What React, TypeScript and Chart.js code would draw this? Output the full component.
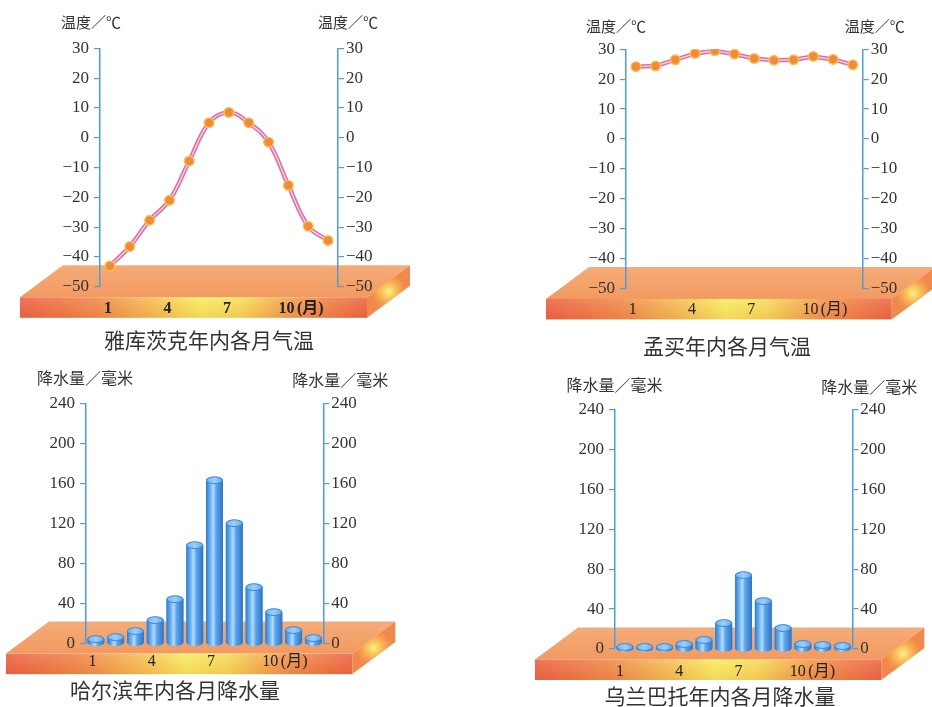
import React, { useEffect, useRef } from 'react';
import { Chart, registerables } from 'chart.js';

Chart.register(...registerables);

// ---------- data ----------
const months = ['1', '2', '3', '4', '5', '6', '7', '8', '9', '10', '11', '12'];
const monthTickLabels = ['1', '', '', '4', '', '', '7', '', '', '10', '\u2002(月)', ''];
const tempTickValues = [-50, -40, -30, -20, -10, 0, 10, 20, 30];
const precipTickValues = [0, 40, 80, 120, 160, 200, 240];

const yakutskTemperature = [-43, -36.5, -27.7, -21, -7.8, 5, 8.5, 5, -1.5, -16, -29.7, -34.5];
const mumbaiTemperature = [24.2, 24.4, 26.5, 28.6, 29.5, 28.4, 26.9, 26.3, 26.5, 27.6, 26.6, 24.8];
const harbinPrecipitation = [4, 6, 12, 23, 44, 98, 163, 120, 56, 31, 13, 5];
const ulaanbaatarPrecipitation = [2, 2, 2, 5, 9, 26, 74, 48, 21, 5, 4, 3];

const tempUnit = '温度／℃';
const precipUnit = '降水量／毫米';

// ---------- styles ----------
const SERIF = "'Liberation Serif', 'DejaVu Serif', 'Noto Sans CJK SC', serif";
const CJK = "'Noto Sans CJK SC', sans-serif";
const TEXT = '#333333';
const AXIS_BLUE = '#4a9ee2';

type Panel = {
  kind: 'line' | 'bar';
  values: number[];
  ticks: number[];
  smooth?: boolean;
  title: string;
  unit: string;
  unitSize: number;
  unitLeft: [number, number];
  unitRight: [number, number];
  left: number;
  top: number;
  width: number;
  height: number;
  padLeft: number;
  padRight: number;
  padTop: number;
  leftW: number;
  rightW: number;
  xH: number;
  titlePadTop: number;
  monthPad: number;
  monthOffset: number;
  monthBold?: boolean;
};

const panels: Panel[] = [
  {
    kind: 'line', values: yakutskTemperature, ticks: tempTickValues, smooth: true,
    title: '雅库茨克年内各月气温', unit: tempUnit, unitSize: 15,
    unitLeft: [-9, -26], unitRight: [10, -26],
    left: 0, top: 0, width: 420, height: 353,
    padLeft: 0, padRight: 2, padTop: 48.3, leftW: 100, rightW: 80,
    xH: 36, titlePadTop: 5, monthPad: 12, monthOffset: -2, monthBold: true,
  },
  {
    kind: 'line', values: mumbaiTemperature, ticks: tempTickValues, smooth: false,
    title: '孟买年内各月气温', unit: tempUnit, unitSize: 15,
    unitLeft: [-10, -22.6], unitRight: [12, -22.6],
    left: 522, top: 0, width: 410, height: 359.3,
    padLeft: 0, padRight: 0, padTop: 49.3, leftW: 104, rightW: 69.3,
    xH: 36, titlePadTop: 9.4, monthPad: 11.7, monthOffset: -3,
  },
  {
    kind: 'bar', values: harbinPrecipitation, ticks: precipTickValues,
    title: '哈尔滨年内各月降水量', unit: precipUnit, unitSize: 16,
    unitLeft: [-1, -25], unitRight: [17, -23],
    left: -60, top: 360, width: 470, height: 342.6,
    padLeft: 0, padRight: 0, padTop: 43.3, leftW: 146, rightW: 86.7,
    xH: 30, titlePadTop: 4.7, monthPad: 9.4, monthOffset: -3.5,
  },
  {
    kind: 'bar', values: ulaanbaatarPrecipitation, ticks: precipTickValues,
    title: '乌兰巴托年内各月降水量', unit: precipUnit, unitSize: 16,
    unitLeft: [-0.5, -24], unitRight: [17, -22.6],
    left: 520, top: 360, width: 412, height: 349.3,
    padLeft: 0, padRight: 12, padTop: 49.3, leftW: 95, rightW: 67.7,
    xH: 30, titlePadTop: 4.8, monthPad: 12.8, monthOffset: -5,
  },
];

const fmtTick = (v: number | string) => {
  const n = Number(v);
  return n < 0 ? '\u2212' + Math.abs(n) : String(n);
};

// ---------- plugins ----------
const platformPlugin = {
  id: 'platform',
  beforeDraw(chart: any) {
    const { ctx, chartArea } = chart;
    const L = chartArea.left, R = chartArea.right, B = chartArea.bottom;
    const depthX = 43;
    const fl = L - 80, fr = R + 29, bl = fl + depthX, br = fr + depthX;
    const backY = B - 21.5, frontY = B + 10.5, botY = B + 31;
    const thick = botY - frontY;
    ctx.save();
    // top face
    let g = ctx.createLinearGradient(0, backY, 0, frontY);
    g.addColorStop(0, '#f5ac78');
    g.addColorStop(1, '#f29a60');
    ctx.fillStyle = g;
    ctx.beginPath();
    ctx.moveTo(bl, backY);
    ctx.lineTo(br, backY);
    ctx.lineTo(fr, frontY);
    ctx.lineTo(fl, frontY);
    ctx.closePath();
    ctx.fill();
    // front face
    g = ctx.createLinearGradient(fl, 0, fr, 0);
    g.addColorStop(0, '#ec6242');
    g.addColorStop(0.22, '#f08a4a');
    g.addColorStop(0.4, '#f6c454');
    g.addColorStop(0.52, '#f8ee5e');
    g.addColorStop(0.64, '#f6dc58');
    g.addColorStop(0.8, '#f2964a');
    g.addColorStop(1, '#ec6444');
    ctx.fillStyle = g;
    ctx.fillRect(fl, frontY, fr - fl, thick);
    const vg = ctx.createLinearGradient(0, frontY, 0, botY);
    vg.addColorStop(0, 'rgba(255,255,255,0.12)');
    vg.addColorStop(1, 'rgba(200,60,20,0.12)');
    ctx.fillStyle = vg;
    ctx.fillRect(fl, frontY, fr - fl, thick);
    // right side face
    ctx.beginPath();
    ctx.moveTo(fr, frontY);
    ctx.lineTo(br, backY);
    ctx.lineTo(br, backY + thick);
    ctx.lineTo(fr, botY);
    ctx.closePath();
    ctx.fillStyle = '#f08a4c';
    ctx.fill();
    ctx.clip();
    const cx = (fr + br) / 2, cy = (frontY + backY) / 2 + thick / 2;
    const rg = ctx.createRadialGradient(cx, cy, 0, cx, cy, 18);
    rg.addColorStop(0, 'rgba(255,244,130,1)');
    rg.addColorStop(0.5, 'rgba(255,210,90,0.6)');
    rg.addColorStop(1, 'rgba(255,180,80,0)');
    ctx.fillStyle = rg;
    ctx.fillRect(cx - 25, cy - 25, 50, 50);
    ctx.restore();
  },
};

const cylinderPlugin = {
  id: 'cylinders',
  afterDatasetsDraw(chart: any) {
    const meta = chart.getDatasetMeta(0);
    if (!meta || meta.type !== 'bar') return;
    const ctx = chart.ctx;
    meta.data.forEach((el: any) => {
      const { x, y, base, width } = el.getProps(['x', 'y', 'base', 'width'], true);
      const hw = width / 2;
      const ry = Math.max(3, width * 0.2);
      ctx.save();
      const g = ctx.createLinearGradient(x - hw, 0, x + hw, 0);
      g.addColorStop(0, '#2b7bd2');
      g.addColorStop(0.25, '#6ab2f2');
      g.addColorStop(0.42, '#b4dcff');
      g.addColorStop(0.6, '#5aa4ec');
      g.addColorStop(1, '#2a74cc');
      ctx.fillStyle = g;
      ctx.beginPath();
      ctx.moveTo(x - hw, y);
      ctx.lineTo(x - hw, base);
      ctx.ellipse(x, base, hw, ry, 0, Math.PI, 0, true);
      ctx.lineTo(x + hw, y);
      ctx.ellipse(x, y, hw, ry, 0, 0, Math.PI, true);
      ctx.closePath();
      ctx.fill();
      // top cap
      ctx.beginPath();
      ctx.ellipse(x, y, hw - 0.5, ry, 0, 0, Math.PI * 2);
      const tg = ctx.createLinearGradient(x - hw, 0, x + hw, 0);
      tg.addColorStop(0, '#6fb4f0');
      tg.addColorStop(0.5, '#9ccff8');
      tg.addColorStop(1, '#5ea6ec');
      ctx.fillStyle = tg;
      ctx.fill();
      ctx.lineWidth = 1;
      ctx.strokeStyle = '#3a88dc';
      ctx.stroke();
      ctx.restore();
    });
  },
};

const makeUnitPlugin = (p: Panel) => ({
  id: 'unitLabels',
  afterDraw(chart: any) {
    const { ctx, chartArea } = chart;
    ctx.save();
    ctx.font = `${p.unitSize}px ${CJK}`;
    ctx.fillStyle = TEXT;
    ctx.textAlign = 'center';
    ctx.textBaseline = 'middle';
    ctx.fillText(p.unit, chartArea.left + p.unitLeft[0], chartArea.top + p.unitLeft[1]);
    ctx.fillText(p.unit, chartArea.right + p.unitRight[0], chartArea.top + p.unitRight[1]);
    ctx.restore();
  },
});

// ---------- config ----------
function buildConfig(p: Panel): any {
  const yMin = p.ticks[0];
  const yMax = p.ticks[p.ticks.length - 1];
  const step = p.ticks[1] - p.ticks[0];

  const yAxis = (position: 'left' | 'right', w: number) => ({
    type: 'linear',
    position,
    min: yMin,
    max: yMax,
    grid: {
      display: true,
      drawOnChartArea: false,
      drawTicks: true,
      tickLength: 6,
      color: AXIS_BLUE,
      lineWidth: 1.2,
    },
    border: { display: true, color: AXIS_BLUE, width: 1.5 },
    ticks: {
      stepSize: step,
      color: TEXT,
      padding: position === 'left' ? 5 : 2,
      font: { family: SERIF, size: 17 },
      callback: (v: number) => fmtTick(v),
    },
    afterFit: (s: any) => {
      s.width = w;
    },
  });

  let datasets: any[];
  if (p.kind === 'line') {
    const tension = p.smooth ? 0.4 : 0;
    datasets = [
      {
        data: p.values,
        yAxisID: 'y',
        order: 0,
        borderColor: '#fbd3e4',
        borderWidth: 1.4,
        tension,
        pointRadius: 4.8,
        pointBackgroundColor: '#f28a38',
        pointBorderColor: '#f9c24c',
        pointBorderWidth: 1.4,
        fill: false,
      },
      {
        data: p.values,
        yAxisID: 'y',
        order: 1,
        borderColor: '#e46c9e',
        borderWidth: 4.4,
        tension,
        pointRadius: 0,
        fill: false,
      },
    ];
  } else {
    datasets = [
      {
        data: p.values,
        yAxisID: 'y',
        backgroundColor: '#4a9ae8',
        borderWidth: 0,
        barPercentage: 0.9,
        categoryPercentage: 0.95,
      },
    ];
  }

  return {
    type: p.kind,
    data: { labels: months, datasets },
    options: {
      responsive: false,
      maintainAspectRatio: false,
      animation: false,
      layout: { padding: { left: p.padLeft, right: p.padRight, top: p.padTop, bottom: 0 } },
      plugins: {
        legend: { display: false },
        tooltip: { enabled: false },
        title: {
          display: true,
          text: p.title,
          position: 'bottom',
          color: TEXT,
          font: { family: CJK, size: 21, weight: 'normal', lineHeight: 1.2 },
          padding: { top: p.titlePadTop, bottom: 0 },
        },
      },
      scales: {
        x: {
          type: 'category',
          offset: true,
          grid: { display: false, drawTicks: false },
          border: { display: false },
          ticks: {
            autoSkip: false,
            maxRotation: 0,
            minRotation: 0,
            padding: p.monthPad,
            labelOffset: p.monthOffset,
            color: '#222222',
            font: { family: SERIF, size: 16, weight: p.monthBold ? 'bold' : 'normal', lineHeight: 1.2 },
            callback: (_v: any, i: number) => monthTickLabels[i],
          },
          afterFit: (s: any) => {
            s.height = p.xH;
          },
        },
        y: yAxis('left', p.leftW),
        y2: yAxis('right', p.rightW),
      },
    },
    plugins: [platformPlugin, cylinderPlugin, makeUnitPlugin(p)],
  };
}

function PanelChart({ p }: { p: Panel }) {
  const ref = useRef<HTMLCanvasElement>(null);
  useEffect(() => {
    if (!ref.current) return;
    const chart = new Chart(ref.current, buildConfig(p));
    return () => chart.destroy();
  }, [p]);
  return (
    <canvas
      ref={ref}
      width={p.width}
      height={Math.round(p.height)}
      style={{
        position: 'absolute',
        left: p.left,
        top: p.top,
        width: p.width,
        height: Math.round(p.height),
      }}
    />
  );
}

export default function App() {
  useEffect(() => {
    document.body.style.margin = '0';
  }, []);
  return (
    <div
      style={{
        position: 'fixed',
        left: 0,
        top: 0,
        width: 932,
        height: 707,
        overflow: 'hidden',
        background: '#ffffff',
      }}
    >
      {panels.map((p, i) => (
        <PanelChart key={i} p={p} />
      ))}
    </div>
  );
}
